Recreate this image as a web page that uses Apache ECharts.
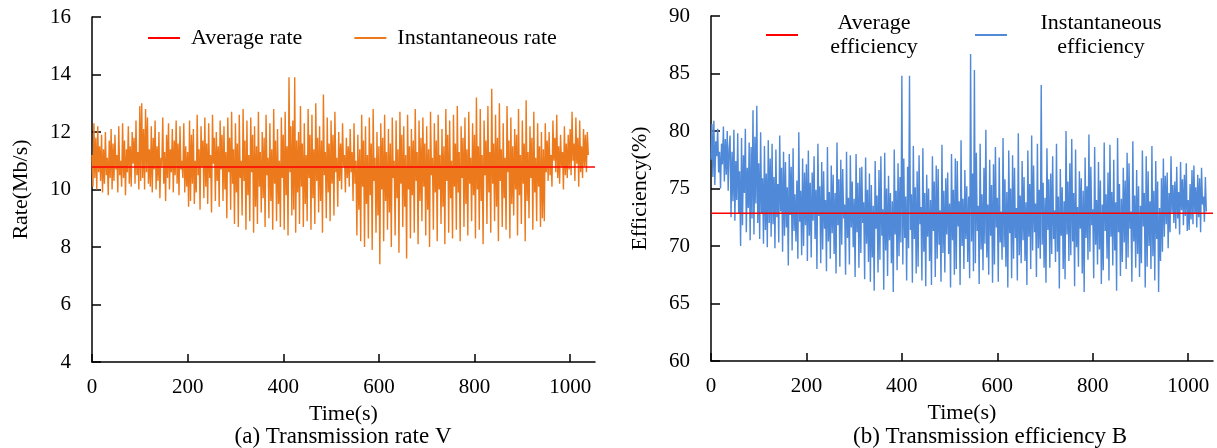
<!DOCTYPE html>
<html>
<head>
<meta charset="utf-8">
<script src="https://cdn.jsdelivr.net/npm/echarts@6/dist/echarts.min.js"></script>
<style>
html,body{margin:0;padding:0;background:#fff;}
#c{width:1217px;height:448px;}
</style>
</head>
<body>
<div id="c"></div>
<script>
// ---- data ----
const timeStep = 2; // seconds between samples
const xTickValues = [0, 200, 400, 600, 800, 1000];
const avgRate = 10.78;
const avgEfficiency = 72.85;
const rateValues = [
11.2,10.1,12.3,10.4,11.8,10.0,12.2,10.6,11.5,10.3,
11.9,9.9,11.4,10.2,12.0,10.5,11.1,9.8,11.7,10.4,
12.1,10.0,11.6,10.3,11.9,10.7,11.2,9.9,12.2,10.5,
11.0,10.1,12.3,10.4,11.7,9.8,11.4,10.6,12.2,10.2,
11.5,10.1,12.0,10.9,11.8,10.2,12.4,10.5,11.3,10.0,
12.9,10.3,13.0,10.4,12.1,10.0,12.8,10.6,12.5,10.2,
11.4,10.1,12.2,9.9,11.8,10.7,12.4,10.0,11.5,10.3,
12.0,9.7,11.1,10.8,12.5,10.2,11.3,9.6,11.9,10.4,
12.3,10.0,11.4,10.6,12.1,9.9,11.7,10.5,12.4,10.2,
11.6,9.8,12.2,10.7,11.0,10.4,12.3,9.9,11.5,10.1,
11.3,9.4,12.4,9.6,11.9,10.2,12.1,9.5,11.0,9.9,
12.6,10.5,11.4,9.3,12.2,10.8,11.7,9.7,12.5,10.1,
11.6,9.5,12.3,10.4,11.2,9.2,12.6,10.9,11.8,9.6,
12.0,10.3,11.5,9.4,12.4,10.7,11.9,9.6,12.2,10.0,
11.3,9.0,12.5,10.6,11.8,9.3,12.7,10.2,11.4,8.8,
12.3,9.9,11.6,8.7,12.6,10.4,11.0,9.1,12.8,10.3,
11.7,8.6,12.4,9.8,11.2,8.9,12.5,10.6,11.9,8.5,
12.2,9.4,11.5,8.8,12.7,10.1,11.3,9.2,12.0,9.7,
11.8,8.7,12.6,10.5,11.1,9.0,12.3,9.6,11.4,8.6,
12.8,10.2,11.7,8.9,12.1,9.5,11.0,8.7,12.5,10.4,
11.9,8.6,12.7,9.8,11.5,8.4,13.9,10.6,12.2,9.1,
12.4,9.3,13.9,8.5,11.7,9.9,12.0,8.8,12.9,10.1,
11.6,8.7,12.3,9.5,11.2,8.9,12.8,10.4,11.9,8.6,
12.6,9.7,11.4,8.8,13.0,10.3,11.8,9.2,12.2,9.6,
11.7,8.5,13.3,10.5,11.3,9.0,12.5,9.9,11.6,8.9,
12.4,10.2,11.9,9.1,12.7,10.6,11.1,9.4,12.0,10.3,
11.6,10.0,12.3,10.8,11.2,9.9,11.8,10.4,11.5,10.1,
12.1,10.6,11.3,9.6,12.3,10.2,11.0,8.4,11.9,9.3,
11.4,8.2,12.6,10.1,11.7,8.0,12.2,9.5,11.2,8.3,
12.5,9.8,11.6,7.9,12.8,10.3,11.1,8.5,12.0,9.1,
11.5,7.4,12.3,10.0,11.8,8.2,12.6,9.6,11.3,8.6,
12.1,9.2,11.6,8.0,12.5,10.4,11.0,8.4,12.4,9.7,
11.4,7.8,12.7,10.2,11.9,8.7,12.2,9.4,11.2,7.6,
12.6,10.0,11.5,8.3,12.1,9.8,11.7,8.5,12.8,10.3,
11.3,8.1,12.4,9.6,11.8,8.9,12.5,10.1,11.6,8.4,
12.2,9.3,11.4,8.0,12.7,10.5,11.1,8.6,12.3,9.9,
11.7,8.2,12.6,10.0,11.2,8.8,12.1,9.4,11.5,8.1,
12.8,10.3,11.9,8.5,12.4,9.7,11.0,8.3,12.6,10.1,
11.6,8.6,12.9,9.9,11.3,8.2,12.2,10.4,11.8,8.7,
12.5,9.5,11.4,8.4,12.7,10.2,11.1,8.9,12.3,9.8,
11.9,8.3,13.2,10.0,11.5,8.6,12.8,9.6,11.2,8.1,
12.4,10.5,11.7,8.8,12.9,9.9,11.3,8.5,13.5,10.2,
11.6,8.9,12.6,9.4,11.8,8.2,13.0,10.3,11.4,8.7,
12.3,9.7,11.1,8.6,12.9,10.6,11.7,8.3,12.5,9.5,
11.5,9.1,12.1,10.0,11.9,8.4,12.8,9.8,11.2,8.8,
12.4,10.2,11.6,8.2,13.1,9.6,11.3,9.0,12.2,10.4,
11.8,8.6,12.7,9.9,11.1,8.9,12.3,10.1,11.5,8.7,
12.0,9.0,11.4,8.9,12.3,10.6,11.7,10.3,12.0,10.5,
11.2,10.1,12.4,11.0,11.8,10.6,12.6,10.4,11.5,10.2,
11.9,10.8,11.3,10.0,12.2,10.5,11.6,10.4,11.9,10.7,
12.1,10.5,12.7,11.0,11.6,10.3,12.5,10.9,11.8,10.1,
12.4,10.6,11.5,10.4,12.1,10.8,11.9,10.6,12.0,11.2
];
const efficiencyValues = [
77.5,80.6,76.0,80.9,75.3,79.1,77.8,80.2,76.4,78.2,
75.0,78.9,77.1,80.4,75.6,79.3,76.2,80.0,74.8,78.5,
79.6,72.5,78.2,73.9,80.1,72.2,77.4,74.0,79.8,72.8,
76.5,70.0,79.4,71.8,77.9,74.6,80.2,71.2,76.8,73.3,
79.0,70.5,78.6,72.4,81.8,71.0,79.5,73.7,82.2,72.0,
77.2,70.6,79.9,72.8,75.9,70.2,78.7,71.4,76.3,69.9,
79.2,72.0,77.6,70.8,78.9,71.9,76.0,69.8,78.4,72.5,
75.4,70.3,79.6,73.0,76.8,69.5,78.2,70.9,77.3,71.6,
75.1,68.3,78.0,72.7,76.9,69.6,78.5,71.3,74.5,70.4,
75.7,68.9,79.9,72.1,74.8,69.2,77.6,70.0,76.4,71.8,
77.1,68.7,78.3,70.9,75.5,69.0,76.4,72.2,77.8,70.6,
74.9,68.0,78.9,72.6,75.2,68.5,77.3,69.7,76.5,71.5,
74.0,67.8,78.6,70.4,74.7,68.9,77.0,71.1,76.2,69.3,
74.6,67.6,79.0,71.8,75.8,68.2,77.5,70.1,76.7,72.4,
73.6,67.5,78.2,70.7,74.2,68.4,77.9,71.6,75.6,69.9,
74.1,67.3,78.0,71.2,75.5,68.1,76.8,69.4,76.9,72.0,
73.8,67.1,77.7,70.2,74.9,68.6,76.3,66.9,75.3,69.0,
73.5,66.1,77.4,71.5,74.4,67.7,76.6,68.8,77.8,70.9,
73.2,66.2,78.1,69.6,75.0,67.4,76.1,70.5,74.6,68.5,
73.9,66.0,78.4,71.0,74.8,67.9,77.2,69.1,76.0,70.3,
84.8,68.4,77.6,70.7,74.3,67.0,76.9,69.8,84.8,71.4,
74.5,66.8,78.7,70.6,75.1,67.6,76.5,68.2,77.9,71.9,
73.4,67.0,78.5,69.5,74.6,66.5,76.2,70.8,75.0,68.7,
74.0,66.6,77.8,71.3,75.6,67.3,77.0,68.9,76.7,70.1,
73.1,66.9,78.8,69.4,74.8,67.7,75.9,71.0,76.4,69.3,
73.7,66.4,78.0,70.5,74.9,67.5,77.6,68.0,77.4,71.7,
73.9,66.6,79.2,70.0,74.1,68.0,76.6,70.6,75.2,68.6,
74.3,67.2,86.7,70.4,76.3,67.8,85.3,68.5,78.1,71.3,
73.5,66.7,78.9,69.7,74.5,67.9,76.8,70.2,80.1,69.0,
73.6,67.5,77.5,70.9,75.3,66.8,77.1,68.4,78.6,71.6,
74.2,66.9,77.7,70.3,73.0,68.8,79.4,69.9,75.8,68.2,
74.7,66.4,78.3,71.1,75.0,67.2,77.9,68.9,76.8,70.7,
73.3,67.0,79.8,69.2,74.4,68.5,77.4,70.5,76.0,68.7,
73.8,66.6,78.3,70.8,75.4,68.0,79.6,69.6,77.0,71.2,
73.7,67.3,78.9,69.8,74.9,68.9,84.0,70.1,75.5,68.1,
74.2,66.8,78.5,71.4,75.8,68.1,76.3,69.3,77.8,70.6,
73.1,68.6,78.9,69.5,74.3,66.3,76.7,70.9,75.1,68.0,
73.9,67.1,80.0,71.0,75.6,68.7,77.2,69.2,79.3,70.4,
74.6,66.5,78.4,69.9,73.4,68.2,76.5,71.5,75.9,67.6,
74.8,66.0,77.7,70.7,75.2,68.8,79.7,69.5,76.9,71.8,
73.2,67.2,78.6,70.1,74.0,68.4,77.3,69.7,75.7,66.7,
73.6,67.9,79.0,71.3,74.5,68.9,76.4,67.0,78.8,70.8,
74.7,68.3,77.5,69.6,73.8,66.1,79.4,71.2,75.4,67.4,
74.1,68.6,76.8,70.3,75.7,68.0,78.1,69.0,77.2,71.5,
73.0,66.9,79.1,70.4,74.4,68.1,76.6,69.3,75.2,67.3,
73.5,68.5,78.3,71.7,74.6,66.4,77.8,68.2,76.5,70.0,
73.9,68.0,78.7,69.1,74.8,67.0,77.4,70.6,75.6,66.0,
73.3,68.7,75.9,69.5,77.6,70.8,76.1,71.9,76.4,69.8,
74.6,71.2,77.8,72.9,75.3,72.0,75.6,71.5,76.9,72.4,
74.7,71.0,77.3,73.1,75.8,71.8,76.2,72.6,77.2,71.3,
74.0,71.4,75.4,72.3,76.6,71.9,77.0,72.8,75.1,71.6,
76.2,72.5,75.9,71.2,76.8,73.6,74.3,72.1,76.0,73.0
];

// ---- build ----
const FONT = '"Liberation Serif","Times New Roman",serif';
const XMAX = 1052;
const ratePts = rateValues.map((v, i) => [i * timeStep, v]);
const effPts = efficiencyValues.map((v, i) => [i * timeStep, v]);

function xAxisCfg(gi) {
  return {
    type: 'value', gridIndex: gi, min: 0, max: XMAX,
    name: 'Time(s)', nameLocation: 'middle', nameGap: 35,
    nameTextStyle: { fontFamily: FONT, fontSize: 22, color: '#000' },
    axisLine: { lineStyle: { color: '#000', width: 1.5 } },
    axisTick: { inside: true, length: 8, customValues: xTickValues, lineStyle: { color: '#000', width: 1.5 } },
    axisLabel: { customValues: xTickValues, formatter: v => String(v), margin: 15, fontFamily: FONT, fontSize: 21, color: '#000' },
    splitLine: { show: false }
  };
}
function yAxisCfg(gi, name, min, max, interval) {
  return {
    type: 'value', gridIndex: gi, min: min, max: max, interval: interval,
    name: name, nameLocation: 'middle', nameGap: 60,
    nameTextStyle: { fontFamily: FONT, fontSize: 22, color: '#000' },
    axisLine: { show: true, lineStyle: { color: '#000', width: 1.5 } },
    axisTick: { show: true, inside: true, length: 9, lineStyle: { color: '#000', width: 1.5 } },
    axisLabel: { margin: 21, fontFamily: FONT, fontSize: 21, color: '#000' },
    splitLine: { show: false }
  };
}

const chart = echarts.init(document.getElementById('c'), null, { renderer: 'canvas' });
chart.setOption({
  animation: false,
  backgroundColor: '#fff',
  textStyle: { fontFamily: FONT },
  grid: [
    { left: 92, top: 17, width: 503, height: 345 },
    { left: 711, top: 16, width: 502, height: 345 }
  ],
  xAxis: [xAxisCfg(0), xAxisCfg(1)],
  yAxis: [
    yAxisCfg(0, 'Rate(Mb/s)', 4, 16, 2),
    yAxisCfg(1, 'Efficiency(%)', 60, 90, 5)
  ],
  legend: [
    {
      left: 143, top: 22, icon: 'rect', itemWidth: 32, itemHeight: 2, itemGap: 52,
      data: ['Average rate', 'Instantaneous rate'],
      formatter: n => '{a|' + n + '}',
      textStyle: { fontFamily: FONT, fontSize: 22, color: '#000',
        rich: { a: { fontFamily: FONT, fontSize: 22, color: '#000', padding: [0, 0, 0, 6] } } }
    },
    {
      left: 761, top: 7, icon: 'rect', itemWidth: 32, itemHeight: 2, itemGap: 30,
      data: ['Average efficiency', 'Instantaneous efficiency'],
      formatter: n => {
        const parts = n.split(' ');
        const k = parts[0] === 'Average' ? 'a' : 'b';
        return '{' + k + '|' + parts[0] + '}\n{' + k + '|' + parts[1] + '}';
      },
      textStyle: { fontFamily: FONT, fontSize: 22, color: '#000',
        rich: {
          a: { fontFamily: FONT, fontSize: 22, color: '#000', width: 142, align: 'center', lineHeight: 24 },
          b: { fontFamily: FONT, fontSize: 22, color: '#000', width: 178, align: 'center', lineHeight: 24 }
        } }
    }
  ],
  series: [
    {
      name: 'Instantaneous rate', type: 'line', xAxisIndex: 0, yAxisIndex: 0,
      data: ratePts, symbol: 'none', z: 2,
      lineStyle: { color: '#EC7A1C', width: 1.4 }, itemStyle: { color: '#EC7A1C' }
    },
    {
      name: 'Average rate', type: 'line', xAxisIndex: 0, yAxisIndex: 0,
      data: [[0, avgRate], [XMAX, avgRate]], symbol: 'none', z: 3,
      lineStyle: { color: '#FF0000', width: 1.5 }, itemStyle: { color: '#FF0000' }
    },
    {
      name: 'Instantaneous efficiency', type: 'line', xAxisIndex: 1, yAxisIndex: 1,
      data: effPts, symbol: 'none', z: 2,
      lineStyle: { color: '#4F89D8', width: 1.4 }, itemStyle: { color: '#4F89D8' }
    },
    {
      name: 'Average efficiency', type: 'line', xAxisIndex: 1, yAxisIndex: 1,
      data: [[0, avgEfficiency], [XMAX, avgEfficiency]], symbol: 'none', z: 3,
      lineStyle: { color: '#FF0000', width: 1.5 }, itemStyle: { color: '#FF0000' }
    }
  ],
  graphic: [
    { type: 'text', x: 343, y: 437, style: { text: '(a) Transmission rate V', font: '23px ' + FONT, fill: '#000', textAlign: 'center', textVerticalAlign: 'middle' } },
    { type: 'text', x: 990, y: 437, style: { text: '(b) Transmission efficiency B', font: '23px ' + FONT, fill: '#000', textAlign: 'center', textVerticalAlign: 'middle' } }
  ]
});
</script>
</body>
</html>
